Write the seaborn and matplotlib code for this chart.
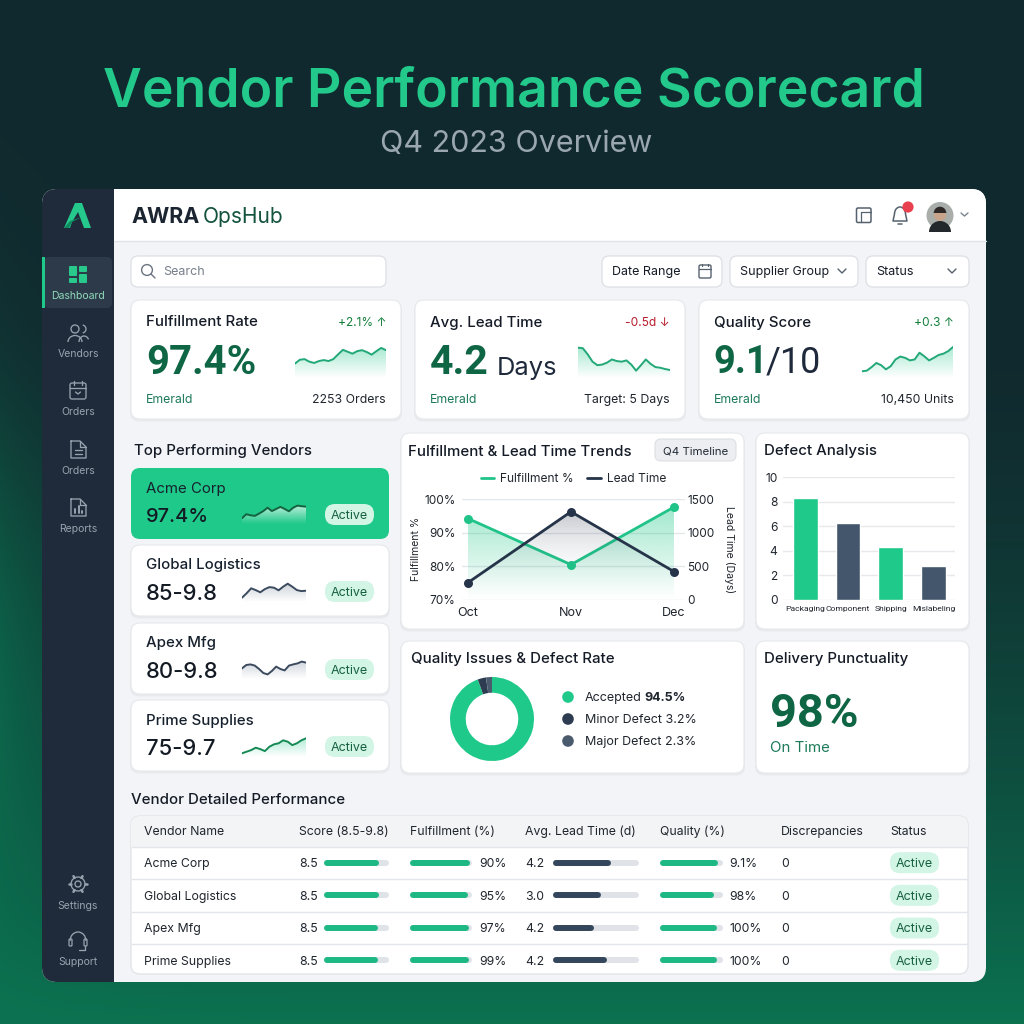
import numpy as np
import pandas as pd
import matplotlib
matplotlib.use('Agg')
import matplotlib.pyplot as plt
import seaborn as sns
from matplotlib.lines import Line2D
from matplotlib.patches import FancyBboxPatch, Circle, Rectangle, Polygon, Wedge, Arc
from matplotlib.colors import to_rgb

sns.set_theme(style='white')
plt.rcParams['font.family'] = ['Inter', 'DejaVu Sans']

# ---- chart values ----
months = ['Oct', 'Nov', 'Dec']
fulfillment_pct = [94.2, 80.5, 97.6]
lead_time_days = [258, 1311, 422]

defect_names = ['Packaging', 'Component', 'Shipping', 'Mislabeling']
defect_values = [8.3, 6.3, 4.3, 2.8]

quality_names = ['Accepted', 'Minor Defect', 'Major Defect']
quality_values = [94.5, 3.2, 2.3]

spark_fulfillment = [45, 57, 59, 51, 47, 53, 56, 53, 59, 74, 88, 82, 76, 84, 87, 81, 73, 84, 94, 87]
spark_lead = [95, 93, 74, 51, 40, 42, 48, 58, 53, 51, 55, 42, 23, 40, 58, 44, 34, 32, 28, 25]
spark_quality = [21, 23, 34, 47, 40, 27, 37, 58, 67, 63, 55, 58, 79, 68, 55, 63, 72, 76, 84, 97]

spark_acme = [29, 48, 43, 40, 51, 63, 79, 63, 73, 83, 73, 62, 79, 89, 86, 84]
spark_global = [20, 42, 67, 58, 47, 63, 73, 70, 57, 75, 90, 75, 58, 53, 55]
spark_apex = [53, 70, 73, 67, 50, 30, 23, 40, 62, 50, 43, 67, 73, 78, 87, 82]
spark_prime = [17, 25, 33, 45, 38, 28, 50, 62, 67, 82, 75, 58, 67, 82, 92]

vendors = ['Acme Corp', 'Global Logistics', 'Apex Mfg', 'Prime Supplies']
top_scores = ['97.4%', '85-9.8', '80-9.8', '75-9.7']

score_text = ['8.5', '8.5', '8.5', '8.5']
score_bars = [83, 83, 81.5, 81.5]
fulfill_text = ['90%', '95%', '97%', '99%']
fulfill_bars = [96, 93.5, 94.5, 94.5]
lead_text = ['4.2', '3.0', '4.2', '4.2']
lead_bars = [65, 53, 44, 60]
quality_text = ['9.1%', '98%', '100%', '100%']
quality_bars = [91.5, 85, 89, 90]
discrepancies = ['0', '0', '0', '0']

GREEN = '#1fc98a'
BAR_GREEN = '#1db884'
DARK_GREEN = '#0f6645'
SLATE = '#43566b'
INK = '#141b26'
ICON = '#98a3af'
ROBOTO = ['Roboto', 'DejaVu Sans']

fig = plt.figure(figsize=(10.24, 10.24), dpi=100)
bg = fig.add_axes([0, 0, 1, 1])
bg.set_xlim(0, 1024)
bg.set_ylim(1024, 0)
bg.axis('off')


def txt(x, y, s, px=13, color=INK, weight='normal', ha='left', va='center', **kw):
    # fonts sit a little high with va=center, push them back down
    if 'rotation' not in kw:
        y = y + 0.1 * px
    return bg.text(x, y, s, fontsize=px * 0.72, color=color, fontweight=weight, ha=ha, va=va, **kw)


def rbox(x0, y0, x1, y1, r=8, fc='white', ec='none', lw=1, z=2, alpha=None):
    p = FancyBboxPatch((x0 + r, y0 + r), x1 - x0 - 2 * r, y1 - y0 - 2 * r,
                       boxstyle=f'round,pad={r}', fc=fc, ec=ec, lw=lw, zorder=z, alpha=alpha)
    bg.add_patch(p)
    return p


def card(x0, y0, x1, y1, r=9):
    rbox(x0 - 1, y0 + 1, x1 + 1, y1 + 2.5, r=r, fc='#cfd4da', z=2, alpha=0.3)
    rbox(x0, y0, x1, y1, r=r, fc='white', ec='#e6e9ec', lw=0.8, z=3)


def icon_line(xs, ys, color=ICON, lw=0.95):
    bg.plot(xs, ys, color=color, lw=lw, zorder=6, solid_capstyle='round', solid_joinstyle='round')


def axes_px(x0, y0, x1, y1):
    ax = fig.add_axes([x0 / 1024, 1 - y1 / 1024, (x1 - x0) / 1024, (y1 - y0) / 1024])
    ax.patch.set_alpha(0)
    return ax


def grad_fill(ax, xs, ys, color, top_alpha, base, power=1.0):
    top = max(ys)
    rgba = np.zeros((128, 2, 4))
    rgba[..., :3] = to_rgb(color)
    rgba[..., 3] = top_alpha * np.linspace(1, 0, 128)[:, None] ** power
    im = ax.imshow(rgba, extent=[xs[0], xs[-1], base, top], aspect='auto', origin='upper',
                   zorder=1, interpolation='bilinear')
    verts = [(xs[0], base)] + list(zip(xs, ys)) + [(xs[-1], base)]
    clip = Polygon(verts, closed=True, transform=ax.transData, fc='none', ec='none')
    ax.add_patch(clip)
    im.set_clip_path(clip)


def sparkline(x0, y0, x1, y1, values, color, fill, top_alpha=0.45):
    ax = axes_px(x0, y0, x1, y1)
    xs = np.arange(len(values))
    grad_fill(ax, xs, values, fill, top_alpha, 0)
    sns.lineplot(x=xs, y=values, ax=ax, color=color, linewidth=1.4, zorder=3, solid_joinstyle='round')
    ax.set_xlim(xs[0], xs[-1])
    ax.set_ylim(0, 100)
    ax.axis('off')


# ---- page background ----
yy, xx = np.mgrid[0:1024, 0:1024]
tv = np.clip((yy - 330) / 694, 0, 1) ** 1.5
side = np.exp(-((yy - 620) / 260.0) ** 2) * np.exp(-xx / 70.0) * 0.45
mix = np.clip(tv + side, 0, 1)[..., None]
c0 = np.array(to_rgb('#11292e'))
c1 = np.array(to_rgb('#0b7250'))
bg.imshow(c0 + (c1 - c0) * mix, extent=[0, 1024, 1024, 0], aspect='auto', zorder=0)
bg.set_xlim(0, 1024)
bg.set_ylim(1024, 0)

txt(513.5, 87, 'Vendor Performance Scorecard', px=53.4, color='#22c98b', weight='semibold', ha='center')
txt(516, 141, 'Q4 2023 Overview', px=30.5, color='#9aa7b1', ha='center')

# ---- app shell ----
shell = rbox(42, 189, 986, 982, r=15, fc='#f3f4f7', z=1)
side_rect = Rectangle((42, 189), 72, 793, fc='#1f2b3a', ec='none', zorder=1.5)
bg.add_patch(side_rect)
side_rect.set_clip_path(shell)
head_rect = Rectangle((114, 189), 872, 52, fc='white', ec='none', zorder=1.5)
bg.add_patch(head_rect)
head_rect.set_clip_path(shell)
bg.plot([114, 986], [241, 241], color='#dfe2e7', lw=1, zorder=2)

# logo
bg.add_patch(Polygon([[64, 228], [75, 203], [82, 203], [91, 228], [84, 228], [78, 212], [72, 222], [70, 228]],
                     fc='#26c98c', ec='none', zorder=6))
bg.add_patch(Polygon([[64, 228], [70, 221], [82, 217], [72, 222], [69, 228]], fc='#0f8a60', ec='none', zorder=7))

# nav
rbox(44, 257, 112, 308, r=5, fc='#2c3a4a', z=2)
bg.add_patch(Rectangle((42, 257), 2.5, 51, fc=GREEN, ec='none', zorder=3))
for x, y, w, h in [(69, 266, 8, 10), (79, 266, 8, 6), (69, 278, 8, 5), (79, 274, 8, 9)]:
    rbox(x, y, x + w, y + h, r=1, fc='#29c98c', z=4)
for y, label in [(295, 'Dashboard'), (353, 'Vendors'), (411, 'Orders'), (470, 'Orders'), (528, 'Reports'),
                 (905, 'Settings'), (961, 'Support')]:
    txt(78, y, label, px=10.5, color='#8fd9b9' if label == 'Dashboard' else '#98a3af', ha='center')

# vendors icon
bg.add_patch(Circle((75, 329), 4, fc='none', ec=ICON, lw=0.95, zorder=6))
bg.add_patch(Arc((75, 342), 14, 13, theta1=180, theta2=360, ec=ICON, lw=0.95, zorder=6))
bg.add_patch(Arc((82, 329), 8, 8, theta1=-80, theta2=80, ec=ICON, lw=0.95, zorder=6))
bg.add_patch(Arc((84, 342), 10, 12, theta1=180, theta2=330, ec=ICON, lw=0.95, zorder=6))
# calendar
rbox(70, 383, 86, 399, r=2, fc='none', ec=ICON, lw=0.95, z=6)
icon_line([70, 86], [388, 388])
icon_line([74, 74], [381, 385])
icon_line([82, 82], [381, 385])
icon_line([75.5, 78, 80.5], [392, 394, 392])
# docs
for top, is_report in [(441, False), (499, True)]:
    icon_line([71, 80, 86, 86, 71, 71], [top, top, top + 6, top + 17, top + 17, top])
    icon_line([80, 80, 86], [top, top + 6, top + 6])
    if is_report:
        for bx, bt in [(75, 10), (78.5, 7), (82, 12)]:
            icon_line([bx, bx], [top + bt, top + 14], ICON, 1.4)
    else:
        icon_line([75, 82], [top + 9, top + 9])
        icon_line([75, 82], [top + 12.5, top + 12.5])
# settings
bg.add_patch(Circle((78, 884), 3, fc='none', ec=ICON, lw=0.95, zorder=6))
bg.add_patch(Circle((78, 884), 7, fc='none', ec=ICON, lw=0.95, zorder=6))
for a in np.arange(0, 360, 60):
    dx, dy = np.cos(np.radians(a)), np.sin(np.radians(a))
    icon_line([78 + 7 * dx, 78 + 9 * dx], [884 + 7 * dy, 884 + 9 * dy], ICON, 1.8)
# support
bg.add_patch(Arc((78, 941), 16, 18, theta1=180, theta2=360, ec=ICON, lw=0.95, zorder=6))
rbox(69, 939, 72, 946, r=1, fc='none', ec=ICON, lw=0.9, z=6)
rbox(84, 939, 87, 946, r=1, fc='none', ec=ICON, lw=0.9, z=6)
icon_line([85, 85, 79], [946, 950, 950])

# header
txt(131, 215, 'AWRA', px=21.5, color='#1b2431', weight='bold')
txt(203, 215, 'OpsHub', px=21, color='#14533f')
rbox(856.5, 208, 871, 222.5, r=1.5, fc='none', ec='#56616e', lw=1.1, z=6)
icon_line([861, 861, 871], [222, 212, 212], '#56616e', 0.9)
bg.add_patch(Arc((900, 214), 11, 14, theta1=180, theta2=360, ec='#56616e', lw=1.1, zorder=6))
icon_line([894.5, 893, 907, 905.5], [214, 221, 221, 214], '#56616e', 1.1)
icon_line([898, 902], [224, 224], '#56616e', 1.1)
bg.add_patch(Circle((908, 207), 5.6, fc='#e8404e', ec='none', zorder=7))
bg.add_patch(Circle((940, 215.5), 13.5, fc='#a9aeab', ec='none', zorder=6))
bg.add_patch(Wedge((940, 232), 11, 180, 360, fc='#23282c', ec='none', zorder=7))
bg.add_patch(Circle((940, 215), 6, fc='#c9a48c', ec='none', zorder=8))
bg.add_patch(Wedge((940, 213), 6.3, 180, 360, fc='#2f2a27', ec='none', zorder=9))
icon_line([961, 964.5, 968], [213, 216, 213], '#7b8490', 1)

# search and filters
for x0, x1 in [(131, 386), (602, 722), (730, 858), (866, 969)]:
    rbox(x0, 256, x1, 287, r=7, fc='white', ec='#dcdfe4', lw=0.9, z=3)
bg.add_patch(Circle((147, 270), 5.4, fc='none', ec='#6b7480', lw=1, zorder=6))
icon_line([151, 155], [274, 278], '#6b7480', 1)
txt(163, 271, 'Search', px=12.5, color='#767f8b', zorder=6)
txt(612, 271, 'Date Range', px=12.5, color=INK, zorder=6)
txt(740, 271, 'Supplier Group', px=12.5, color=INK, zorder=6)
txt(876, 271, 'Status', px=12.5, color=INK, zorder=6)
rbox(699, 265, 711, 278, r=1.5, fc='none', ec='#56616e', lw=1, z=6)
icon_line([699, 711], [269, 269], '#56616e', 0.9)
icon_line([702, 702], [263.5, 266], '#56616e', 0.9)
icon_line([708, 708], [263.5, 266], '#56616e', 0.9)
for cx in [842, 952]:
    icon_line([cx - 4, cx, cx + 4], [269, 273, 269], '#56616e', 1)

# ---- KPI cards ----
kpi = [
    (131, 401, 'Fulfillment Rate', '+2.1% ↑', '#15803d', '2253 Orders', spark_fulfillment, (295, 386)),
    (415, 685, 'Avg. Lead Time', '-0.5d ↓', '#b91c2c', 'Target: 5 Days', spark_lead, (578, 670)),
    (699, 969, 'Quality Score', '+0.3 ↑', '#15803d', '10,450 Units', spark_quality, (862, 953)),
]
for x0, x1, title, delta, dcol, foot, spark, (sx0, sx1) in kpi:
    card(x0, 300, x1, 419)
    txt(x0 + 15, 321, title, px=15, weight='medium', zorder=6)
    txt(x1 - 15, 322, delta, px=12, color=dcol, ha='right', zorder=6)
    txt(x0 + 15, 399, 'Emerald', px=12.3, color='#1c7a59', zorder=6)
    txt(x1 - 15, 399, foot, px=12.3, color='#20262e', ha='right', zorder=6)
    sparkline(sx0, 346, sx1, 378, spark, '#23a878', '#3fcf9b')

txt(146, 359, '97.4%', px=40, color=DARK_GREEN, weight='bold', zorder=6, family=ROBOTO)
txt(430, 359, '4.2', px=41, color=DARK_GREEN, weight='bold', zorder=6, family=ROBOTO)
txt(497, 366, 'Days', px=25.5, color='#1e293b', zorder=6)
txt(713, 359, '9.1', px=38, color=DARK_GREEN, weight='bold', zorder=6, family=ROBOTO)
txt(766, 359, '/10', px=36, color='#1e293b', zorder=6, family=ROBOTO)

# ---- top vendors ----
txt(134, 450, 'Top Performing Vendors', px=15, weight='medium')
tops = [(468, 539), (545, 616), (623, 694), (700, 771)]
name_y = [488, 564, 642, 720]
val_y = [515, 592, 670, 747]
spark_y = [(503.3, 524.3), (581.7, 601.7), (659, 679), (736.7, 756.7)]
spark_vals = [spark_acme, spark_global, spark_apex, spark_prime]
spark_cols = [('#14633f', '#ffffff'), ('#3b4a5e', '#8a97a8'), ('#3b4a5e', '#8a97a8'), ('#168a55', '#3fcf9b')]
for i, (t, b) in enumerate(tops):
    if i == 0:
        rbox(131, t, 389, b, r=9, fc='#1fc98a', z=3)
    else:
        card(131, t, 389, b)
    txt(146, name_y[i], vendors[i], px=15, weight='medium' if i else 'normal', color='#17212e', zorder=6)
    txt(146, val_y[i], top_scores[i], px=20 if i == 0 else 22, weight='medium', color='#131a24', zorder=6)
    rbox(325, val_y[i] - 11, 374, val_y[i] + 10, r=10, fc='#d2f5e5', z=5)
    txt(349.5, val_y[i], 'Active', px=12.5, color='#17613f', ha='center', zorder=6)
    sparkline(242, spark_y[i][0], 306, spark_y[i][1], spark_vals[i], spark_cols[i][0], spark_cols[i][1],
              0.7 if i == 0 else 0.4)

# ---- trends card ----
card(401, 433, 744, 629)
txt(408, 450, 'Fulfillment & Lead Time Trends', px=15, weight='medium', zorder=6)
rbox(655, 439, 736, 461, r=6, fc='#eceef1', ec='#dcdfe4', lw=0.8, z=5)
txt(695.5, 450, 'Q4 Timeline', px=11.5, ha='center', color='#222a35', zorder=6)

ax = axes_px(462, 499, 685, 600)
xs = np.arange(len(months))
trend = pd.DataFrame({'month': months, 'fulfillment': fulfillment_pct, 'lead': lead_time_days})
grad_fill(ax, xs, fulfillment_pct, '#22c98b', 0.42, 70)
sns.lineplot(data=trend, x=xs, y='fulfillment', ax=ax, color='#20c489', linewidth=2, marker='o',
             markersize=6.5, markeredgewidth=0, zorder=4, legend=False)
ax.set_xlim(-0.058, 2.107)
ax.set_ylim(70, 100)
ax.set_yticks([70, 80, 90, 100])
ax.set_yticklabels(['70%', '80%', '90%', '100%'])
ax.set_xticks(xs)
ax.set_xticklabels(months)
ax.tick_params(axis='y', labelsize=11.8 * 0.72, colors='#20262e', length=0, pad=4.5)
ax.tick_params(axis='x', labelsize=12.6 * 0.72, colors='#20262e', length=0, pad=5)
ax.grid(axis='y', color='#e3e6ea', lw=1)
ax.set_axisbelow(True)
ax.set_xlabel('')
ax.set_ylabel('')
sns.despine(ax=ax, left=True, bottom=True)

ax2 = ax.twinx()
ax2.patch.set_alpha(0)
grad_fill(ax2, xs, lead_time_days, '#3a4658', 0.3, 0, power=2.4)
sns.lineplot(data=trend, x=xs, y='lead', ax=ax2, color='#26344a', linewidth=2, marker='o',
             markersize=6.5, markeredgewidth=0, zorder=4, legend=False)
ax2.set_xlim(-0.058, 2.107)
ax2.set_ylim(0, 1500)
ax2.set_yticks([0, 500, 1000, 1500])
ax2.tick_params(axis='y', labelsize=11.8 * 0.72, colors='#20262e', length=0, pad=1.5)
ax2.set_ylabel('')
sns.despine(ax=ax2, left=True, bottom=True, right=True)
ax2.grid(False)
txt(416, 549, 'Fulfillment %', px=10.5, rotation=90, ha='center', zorder=6, color='#20262e')
txt(729, 550, 'Lead Time (Days)', px=10.5, rotation=270, ha='center', zorder=6, color='#20262e')

leg_handles = [Line2D([], [], color='#20c489', lw=2), Line2D([], [], color='#26344a', lw=2)]
ax2.legend(leg_handles, ['Fulfillment %', 'Lead Time'], loc='center', bbox_to_anchor=(0.5, 1.2), ncol=2,
           frameon=False, fontsize=12 * 0.72, handlelength=1.15, columnspacing=1.1, handletextpad=0.5,
           labelcolor='#20262e')

# ---- defect card ----
card(756, 433, 969, 629)
txt(764, 450, 'Defect Analysis', px=15, weight='medium', zorder=6)
ax3 = axes_px(783, 477.3, 955, 600)
defects = pd.DataFrame({'name': defect_names, 'value': defect_values})
sns.barplot(data=defects, x='name', y='value', hue='name', ax=ax3, width=0.58, legend=False, saturation=1,
            palette=[GREEN, SLATE, GREEN, SLATE])
ax3.set_xlim(-0.52, 3.5)
ax3.set_ylim(0, 10)
ax3.set_yticks([0, 2, 4, 6, 8, 10])
ax3.grid(axis='y', color='#e6e8ec', lw=1)
ax3.set_axisbelow(True)
ax3.set_xlabel('')
ax3.set_ylabel('')
ax3.tick_params(axis='y', labelsize=12 * 0.72, colors='#20262e', length=0, pad=4)
ax3.tick_params(axis='x', labelsize=8.5 * 0.72, colors='#20262e', length=0, pad=4)
for lab in ax3.get_xticklabels():
    lab.set_fontfamily('Roboto')
sns.despine(ax=ax3, left=True, bottom=True)

# ---- quality card ----
card(401, 641, 744, 773)
txt(411, 658, 'Quality Issues & Defect Rate', px=15, weight='medium', zorder=6)
ax4 = axes_px(450, 677, 534, 761)
quality_colors = [GREEN, '#2d3c50', '#4b5b6e']
ax4.pie(quality_values, colors=quality_colors, startangle=90, counterclock=False, radius=1,
        wedgeprops={'width': 0.375, 'linewidth': 0})
ax4.set_xlim(-1, 1)
ax4.set_ylim(-1, 1)
for y, col in zip([697, 719, 741], quality_colors):
    bg.add_patch(Circle((568, y), 5.8, fc=col, ec='none', zorder=6))
txt(585, 697, quality_names[0], px=12.5, color='#20262e', zorder=6)
txt(644, 697, f'{quality_values[0]}%', px=12.5, color='#20262e', weight='bold', zorder=6)
txt(585, 719, f'{quality_names[1]} {quality_values[1]}%', px=12.5, color='#20262e', zorder=6)
txt(585, 741, f'{quality_names[2]} {quality_values[2]}%', px=12.5, color='#20262e', zorder=6)

# ---- delivery card ----
card(756, 641, 969, 773)
txt(764, 658, 'Delivery Punctuality', px=15, weight='medium', zorder=6)
txt(770, 709, '98%', px=47, color=DARK_GREEN, weight='bold', zorder=6, family=ROBOTO)
txt(770, 746, 'On Time', px=15, color='#1c7a59', zorder=6)

# ---- table ----
txt(131, 799, 'Vendor Detailed Performance', px=15, weight='medium')
table = rbox(131, 816, 968, 974, r=9, fc='white', ec='#dfe2e7', lw=0.9, z=3)
head = Rectangle((131, 816), 837, 31, fc='#f3f4f6', ec='none', zorder=3.2)
bg.add_patch(head)
head.set_clip_path(table)
row_y = [862.7, 895.3, 928, 960.3]
for y in [847, 879, 911.6, 944]:
    bg.plot([132, 967], [y, y], color='#e2e5e9', lw=1, zorder=3.4)
for x, label in [(144, 'Vendor Name'), (299, 'Score (8.5-9.8)'), (410, 'Fulfillment (%)'), (525, 'Avg. Lead Time (d)'),
                 (660, 'Quality (%)'), (781, 'Discrepancies'), (890, 'Status')]:
    txt(x, 831, label, px=12.3, color='#20262e', zorder=6)


def table_bars(x0, x1, values, color):
    # one small axes per column, rows come from the categorical axis
    a = axes_px(x0 + 3, row_y[0] - 16.3, x1 - 3, row_y[3] + 16.3)
    d = pd.DataFrame({'vendor': vendors, 'track': [100] * 4, 'value': values})
    sns.barplot(data=d, y='vendor', x='track', ax=a, color='#dfe2e7', width=0.004, saturation=1,
                linewidth=4.3, edgecolor='#dfe2e7')
    sns.barplot(data=d, y='vendor', x='value', ax=a, color=color, width=0.004, saturation=1,
                linewidth=4.3, edgecolor=color)
    for p in a.patches:
        # thin bars get simplified to a line, so the cap gives the round end
        p.set_joinstyle('round')
        p.set_capstyle('round')
        p.set_clip_on(False)
    a.set_xlim(0, 100)
    a.set_ylim(3.5, -0.5)
    a.axis('off')


table_bars(324, 389, score_bars, BAR_GREEN)
table_bars(410, 472, fulfill_bars, BAR_GREEN)
table_bars(553, 639, lead_bars, '#34465c')
table_bars(660, 723, quality_bars, BAR_GREEN)

for i, y in enumerate(row_y):
    txt(144, y, vendors[i], px=12.3, color='#20262e', zorder=6)
    txt(299, y, score_text[i], px=12.3, color='#20262e', zorder=6)
    txt(479, y, fulfill_text[i], px=12.3, color='#20262e', zorder=6)
    txt(525, y, lead_text[i], px=12.3, color='#20262e', zorder=6)
    txt(729, y, quality_text[i], px=12.3, color='#20262e', zorder=6)
    txt(781, y, discrepancies[i], px=12.3, color='#20262e', zorder=6)
    rbox(890, y - 10.5, 939, y + 10.5, r=10, fc='#d2f5e5', z=5)
    txt(914.5, y, 'Active', px=12.5, color='#17613f', ha='center', zorder=6)

fig.savefig('out.png', dpi=100)
